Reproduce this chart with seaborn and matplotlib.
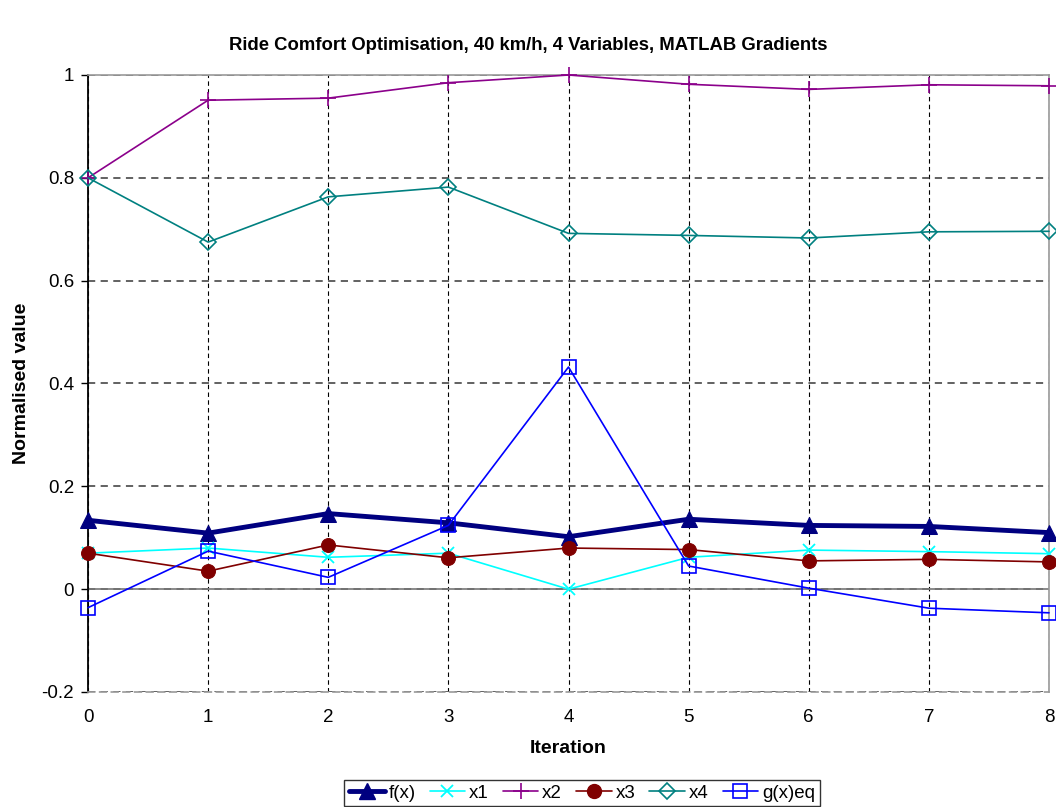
import matplotlib
matplotlib.use("Agg")
import matplotlib.pyplot as plt
import seaborn as sns
import numpy as np
from matplotlib.lines import Line2D

iterations = [0, 1, 2, 3, 4, 5, 6, 7, 8]
fx = [0.134, 0.109, 0.147, 0.129, 0.102, 0.136, 0.124, 0.122, 0.110]
x1 = [0.070, 0.080, 0.062, 0.070, 0.000, 0.062, 0.076, 0.073, 0.069]
x2 = [0.800, 0.951, 0.955, 0.985, 1.000, 0.982, 0.972, 0.981, 0.979]
x3 = [0.070, 0.035, 0.086, 0.061, 0.080, 0.077, 0.055, 0.058, 0.053]
x4 = [0.800, 0.675, 0.763, 0.782, 0.692, 0.688, 0.683, 0.695, 0.696]
gxeq = [-0.036, 0.074, 0.023, 0.124, 0.432, 0.045, 0.002, -0.037, -0.046]
names = ["f(x)", "x1", "x2", "x3", "x4", "g(x)eq"]
yticks = [-0.2, 0, 0.2, 0.4, 0.6, 0.8, 1.0]
yticklabels = ["-0.2", "0", "0.2", "0.4", "0.6", "0.8", "1"]

sns.set_style("white")
plt.rcParams['font.family'] = ['Liberation Sans', 'DejaVu Sans']
plt.rcParams.update({"text.color": "black", "axes.labelcolor": "black",
                     "xtick.color": "black", "ytick.color": "black"})

fig = plt.figure(figsize=(10.56, 8.07), dpi=100)
ax = fig.add_axes([88/1056, 1-692/807, (1049-88)/1056, (692-75)/807])

styles = [
    dict(color="#000080", marker="^", markersize=11, linewidth=3.5, mfc="#000080", mec="#000080"),
    dict(color="#00FFFF", marker="x", markersize=9, linewidth=1.2, mew=1.3, mec="#00FFFF"),
    dict(color="#8B008B", marker="+", markersize=11, linewidth=1.2, mew=1.2, mec="#8B008B"),
    dict(color="#800000", marker="o", markersize=10, linewidth=1.2, mfc="#800000", mec="#800000"),
    dict(color="#008080", marker="D", markersize=8, linewidth=1.2, mfc="none", mec="#008080", mew=1.2),
    dict(color="#0000FF", marker="s", markersize=10, linewidth=1.2, mfc="none", mec="#0000FF", mew=1.2),
]
series = [fx, x1, x2, x3, x4, gxeq]

ax.axhline(0, color="#777777", lw=1.2, zorder=1)
handles = []
for name, vals, st in zip(names, series, styles):
    sns.lineplot(x=iterations, y=vals, ax=ax, zorder=3, clip_on=False, **st)
    handles.append(Line2D([], [], label=name, **st))

ax.set_xlim(0, 8)
ax.set_ylim(-0.2, 1.0)
ax.set_xticks(iterations)
ax.set_yticks(yticks)
ax.set_yticklabels(yticklabels)
ax.tick_params(axis="y", length=5, width=1, color="black", left=True, labelsize=13.5, pad=5)
ax.tick_params(axis="x", length=0, labelsize=13.5, pad=12)

ax.xaxis.grid(True, linestyle=(0, (4, 3)), color="black", lw=0.8)
ax.yaxis.grid(True, linestyle=(0, (4, 3)), color="#555555", lw=1.3)
for s in ["top", "right", "bottom"]:
    ax.spines[s].set_visible(True)
    ax.spines[s].set_color("#999999")
    ax.spines[s].set_linewidth(1.2)
ax.spines["bottom"].set_linestyle((0, (4, 3)))
ax.spines["left"].set_color("black")
ax.spines["left"].set_linewidth(1.3)

ax.set_xlabel("Iteration", fontsize=14, fontweight="bold", labelpad=10)
ax.set_ylabel("Normalised value", fontsize=14, fontweight="bold", labelpad=8)
fig.text(0.5, 1-45/807, "Ride Comfort Optimisation, 40 km/h, 4 Variables, MATLAB Gradients",
         ha="center", va="center", fontsize=13.3, fontweight="bold")

leg = fig.legend(handles=handles, loc="center", bbox_to_anchor=(582/1056, 1-793/807), ncol=6,
                 fontsize=13.5, frameon=True, fancybox=False, handlelength=1.9, handletextpad=0.2,
                 columnspacing=0.75, borderpad=0.25, borderaxespad=0)
leg.get_frame().set_edgecolor("black")
leg.get_frame().set_linewidth(1.0)

fig.savefig("out.png", dpi=100)
